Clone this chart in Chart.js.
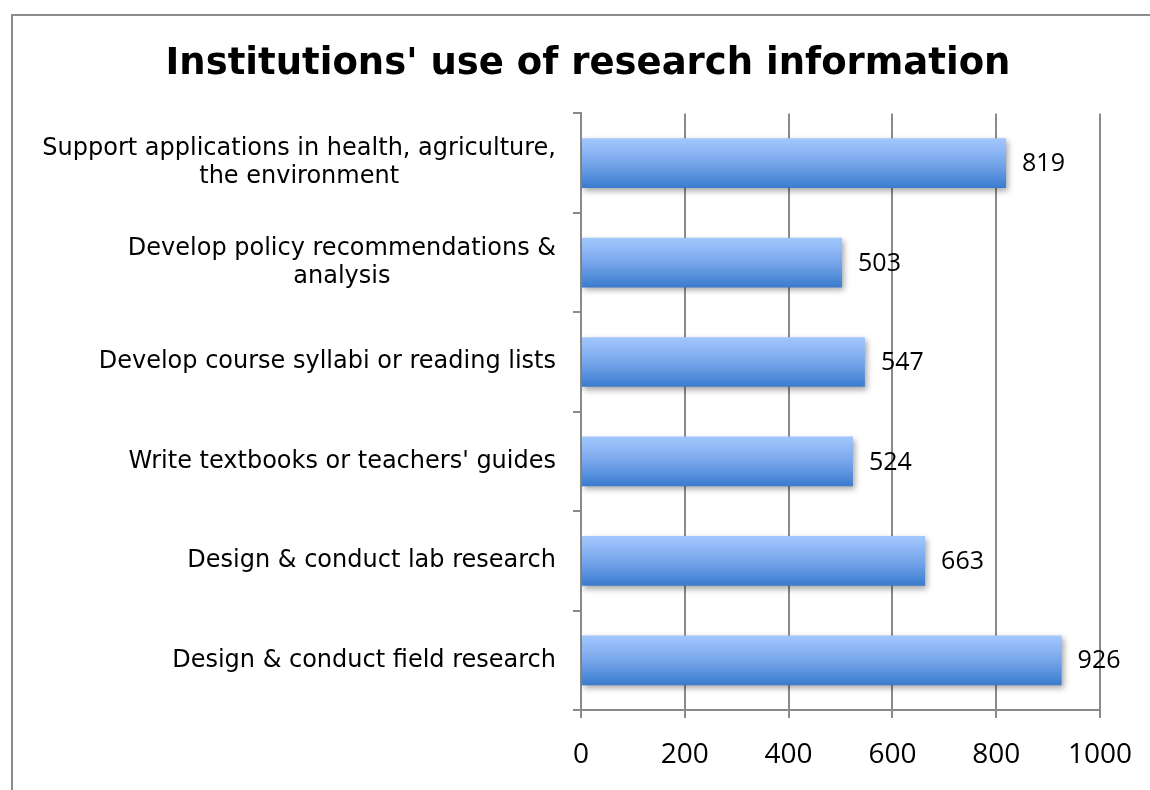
<!DOCTYPE html>
<html>
<head>
<meta charset="utf-8">
<title>Institutions' use of research information</title>
<script src="https://cdn.jsdelivr.net/npm/chart.js@4"></script>
<style>
  html, body { margin: 0; padding: 0; background: #ffffff; }
  #chart { display: block; }
</style>
</head>
<body>
<canvas id="chart" width="1150" height="790"></canvas>
<script>
// Category labels (top to bottom), each split into its display lines
const categories = [
  ["Support applications in health, agriculture,", "the environment"],
  ["Develop policy recommendations &", "analysis"],
  ["Develop course syllabi or reading lists"],
  ["Write textbooks or teachers' guides"],
  ["Design & conduct lab research"],
  ["Design & conduct field research"]
];

// Number of institutions for each use
const institutionCounts = [819, 503, 547, 524, 663, 926];

// Value axis ticks
const axisTicks = [0, 200, 400, 600, 800, 1000];

const chartTitle = "Institutions' use of research information";

const GRID = '#8a8a8a';

// White page with a thin grey frame around the chart
const framePlugin = {
  id: 'frame',
  beforeDraw(chart) {
    const ctx = chart.ctx;
    ctx.save();
    ctx.fillStyle = '#ffffff';
    ctx.fillRect(0, 0, chart.width, chart.height);
    ctx.strokeStyle = '#8c8c8c';
    ctx.lineWidth = 2;
    ctx.strokeRect(12, 15, chart.width + 40, chart.height + 40);
    ctx.restore();
  }
};

// Soft drop shadow under the bars, then value labels to the right of each bar
const barDecorPlugin = {
  id: 'barDecor',
  beforeDatasetsDraw(chart) {
    const ctx = chart.ctx;
    ctx.save();
    ctx.shadowColor = 'rgba(0,0,0,0.35)';
    ctx.shadowBlur = 6;
    ctx.shadowOffsetX = 2;
    ctx.shadowOffsetY = 3;
  },
  afterDatasetsDraw(chart) {
    const ctx = chart.ctx;
    ctx.restore();
    const meta = chart.getDatasetMeta(0);
    ctx.save();
    ctx.font = '25px "Open Sans", "Noto Sans", sans-serif';
    ctx.fillStyle = '#000000';
    ctx.textAlign = 'left';
    ctx.textBaseline = 'middle';
    meta.data.forEach((bar, i) => {
      ctx.fillText(String(institutionCounts[i]), bar.x + 16, bar.y + 1);
    });
    ctx.restore();
  }
};

// Category labels: block right-aligned to the axis, lines centred within the block
const categoryLabelPlugin = {
  id: 'categoryLabels',
  afterDraw(chart) {
    const ctx = chart.ctx;
    const yScale = chart.scales.y;
    const rightEdge = chart.chartArea.left - 25;
    const lineHeight = 28;
    ctx.save();
    ctx.font = '24px "DejaVu Sans", Verdana, sans-serif';
    ctx.fillStyle = '#000000';
    ctx.textAlign = 'center';
    ctx.textBaseline = 'middle';
    categories.forEach((lines, i) => {
      const cy = yScale.getPixelForValue(i);
      const maxW = Math.max(...lines.map(l => ctx.measureText(l).width));
      const cx = rightEdge - maxW / 2;
      const y0 = cy - (lines.length - 1) * lineHeight / 2;
      lines.forEach((line, k) => ctx.fillText(line, cx, y0 + k * lineHeight));
    });
    ctx.restore();
  }
};

function barGradient(c) {
  const chart = c.chart;
  if (!chart.chartArea || c.dataIndex === undefined) return '#6d9fe8';
  const yScale = chart.scales.y;
  const y = yScale.getPixelForValue(c.dataIndex);
  const half = (yScale.height / categories.length) * 0.5 / 2;
  const g = chart.ctx.createLinearGradient(0, y - half, 0, y + half);
  g.addColorStop(0, '#a2c7fd');
  g.addColorStop(0.15, '#98bef9');
  g.addColorStop(0.55, '#72a2e8');
  g.addColorStop(0.9, '#4584d4');
  g.addColorStop(1, '#3c7bcc');
  return g;
}

new Chart(document.getElementById('chart'), {
  type: 'bar',
  data: {
    labels: categories.map(l => l.join(' ')),
    datasets: [{
      data: institutionCounts,
      backgroundColor: barGradient,
      borderWidth: 0,
      barPercentage: 0.5,
      categoryPercentage: 1.0
    }]
  },
  options: {
    indexAxis: 'y',
    responsive: false,
    animation: false,
    devicePixelRatio: 1,
    layout: { padding: { left: 76, right: 50, top: 0, bottom: 0 } },
    plugins: {
      legend: { display: false },
      tooltip: { enabled: false },
      title: {
        display: true,
        text: chartTitle,
        color: '#000000',
        font: { family: '"DejaVu Sans", Verdana, sans-serif', size: 37, weight: 'bold', lineHeight: 1.2 },
        padding: { top: 42, bottom: 27 }
      }
    },
    scales: {
      x: {
        min: 0,
        max: 1000,
        afterBuildTicks(scale) {
          scale.ticks = axisTicks.map(v => ({ value: v }));
        },
        afterFit(scale) {
          scale.height = 80;
          scale.paddingLeft = 0;
          scale.paddingRight = 0;
        },
        ticks: {
          color: '#000000',
          font: { family: '"Open Sans", "Noto Sans", sans-serif', size: 28 },
          padding: 20,
          maxRotation: 0,
          callback: (v) => String(v)
        },
        grid: {
          color: GRID,
          lineWidth: 2,
          tickLength: 8,
          drawOnChartArea: true
        },
        border: { display: true, color: GRID, width: 2 }
      },
      y: {
        type: 'category',
        afterFit(scale) { scale.width = 505; },
        ticks: { display: false },
        grid: {
          color: GRID,
          lineWidth: 2,
          tickLength: 8,
          drawOnChartArea: false
        },
        border: { display: true, color: GRID, width: 2 }
      }
    }
  },
  plugins: [framePlugin, barDecorPlugin, categoryLabelPlugin]
});
</script>
</body>
</html>
